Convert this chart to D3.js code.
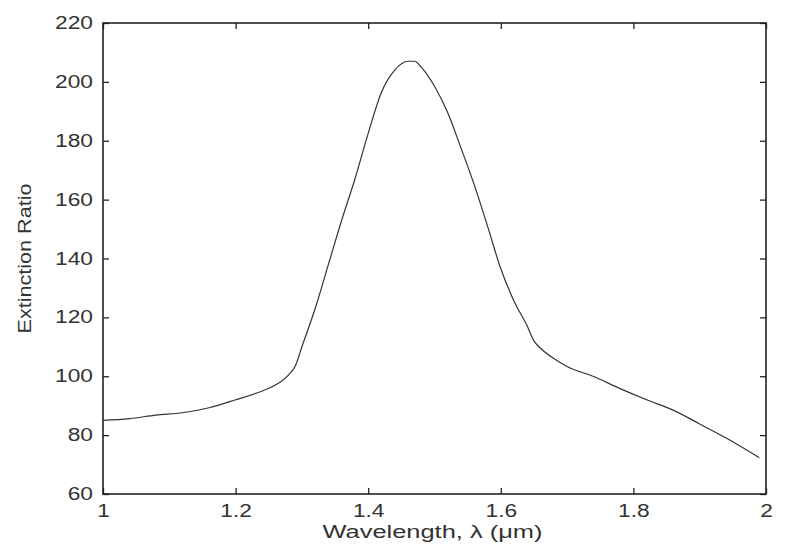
<!DOCTYPE html>
<html>
<head>
<meta charset="utf-8">
<script src="https://cdn.jsdelivr.net/npm/d3@7"></script>
<style>
  html, body { margin: 0; padding: 0; background: #fff; }
  svg { display: block; }
  text { font-family: "Liberation Sans", Arial, sans-serif; fill: #333; }
</style>
</head>
<body>
<svg id="chart" width="785" height="559"></svg>
<script>
// Data
const wavelength = [1.00, 1.04, 1.08, 1.12, 1.16, 1.20, 1.24, 1.26, 1.28, 1.29, 1.30, 1.32, 1.34, 1.36, 1.38, 1.40, 1.42, 1.44, 1.46, 1.47, 1.48, 1.50, 1.52, 1.54, 1.56, 1.58, 1.60, 1.62, 1.64, 1.65, 1.66, 1.68, 1.70, 1.74, 1.78, 1.82, 1.86, 1.90, 1.94, 1.99];
const extinction = [85.0, 85.6, 86.8, 87.6, 89.3, 92.0, 95.0, 97.0, 100.5, 103.5, 110.0, 123.0, 138.0, 153.0, 167.0, 182.5, 196.5, 204.0, 207.0, 207.0, 205.0, 198.5, 189.5, 177.5, 165.0, 151.0, 136.5, 125.5, 117.0, 112.0, 109.5, 106.0, 103.3, 99.9, 95.8, 92.0, 88.5, 83.8, 79.0, 72.3];
const xTicks = [1, 1.2, 1.4, 1.6, 1.8, 2];
const yTicks = [60, 80, 100, 120, 140, 160, 180, 200, 220];
const xTitle = "Wavelength, \u03BB (\u03BCm)";
const yTitle = "Extinction Ratio";

const svg = d3.select("#chart");
const L = 103, R = 766, T = 23, B = 494;

const x = d3.scaleLinear().domain([1, 2]).range([L, R]);
const y = d3.scaleLinear().domain([60, 220]).range([B, T]);

const tickLen = 6;
const axisColor = "#222";

function styleAxis(g, showLabels, factor) {
  g.select(".domain").remove();
  g.selectAll(".tick line").attr("stroke", axisColor).attr("stroke-width", 1.3);
  if (!showLabels) g.selectAll(".tick text").remove();
  else g.selectAll(".tick text")
    .attr("font-size", 17.5)
    .attr("fill", "#333")
    .each(function() {
      const w = this.getComputedTextLength();
      d3.select(this).attr("textLength", w * factor).attr("lengthAdjust", "spacingAndGlyphs");
    });
}

// bottom axis (ticks inward)
svg.append("g").attr("transform", `translate(0,${B})`)
  .call(d3.axisBottom(x).tickValues(xTicks).tickFormat(d3.format("")).tickSizeInner(-tickLen).tickSizeOuter(0).tickPadding(11))
  .call(g => styleAxis(g, true, 1.3))
  .call(g => g.selectAll(".tick text").attr("dy", "0.71em"));

// top axis
svg.append("g").attr("transform", `translate(0,${T})`)
  .call(d3.axisTop(x).tickValues(xTicks).tickSizeInner(-tickLen).tickSizeOuter(0))
  .call(g => styleAxis(g, false));

// left axis
svg.append("g").attr("transform", `translate(${L},0)`)
  .call(d3.axisLeft(y).tickValues(yTicks).tickFormat(d3.format("")).tickSizeInner(-tickLen).tickSizeOuter(0).tickPadding(10))
  .call(g => styleAxis(g, true, 1.3));

// right axis
svg.append("g").attr("transform", `translate(${R},0)`)
  .call(d3.axisRight(y).tickValues(yTicks).tickSizeInner(-tickLen).tickSizeOuter(0))
  .call(g => styleAxis(g, false));

// frame
svg.append("rect")
  .attr("x", L).attr("y", T).attr("width", R - L).attr("height", B - T)
  .attr("fill", "none").attr("stroke", axisColor).attr("stroke-width", 1.6);

// curve
const pts = wavelength.map((w, i) => [w, extinction[i]]);
svg.append("path")
  .datum(pts)
  .attr("fill", "none")
  .attr("stroke", "#333")
  .attr("stroke-width", 1.2)
  .attr("d", d3.line().x(d => x(d[0])).y(d => y(d[1])).curve(d3.curveMonotoneX));

// axis titles
svg.append("text")
  .attr("x", (L + R) / 2 - 2).attr("y", 538)
  .attr("text-anchor", "middle").attr("font-size", 17.5)
  .attr("textLength", 220).attr("lengthAdjust", "spacingAndGlyphs")
  .text(xTitle);

svg.append("text")
  .attr("transform", `translate(31,${(T + B) / 2}) rotate(-90)`)
  .attr("text-anchor", "middle").attr("font-size", 17.5)
  .attr("textLength", 150).attr("lengthAdjust", "spacingAndGlyphs")
  .text(yTitle);
</script>
</body>
</html>
